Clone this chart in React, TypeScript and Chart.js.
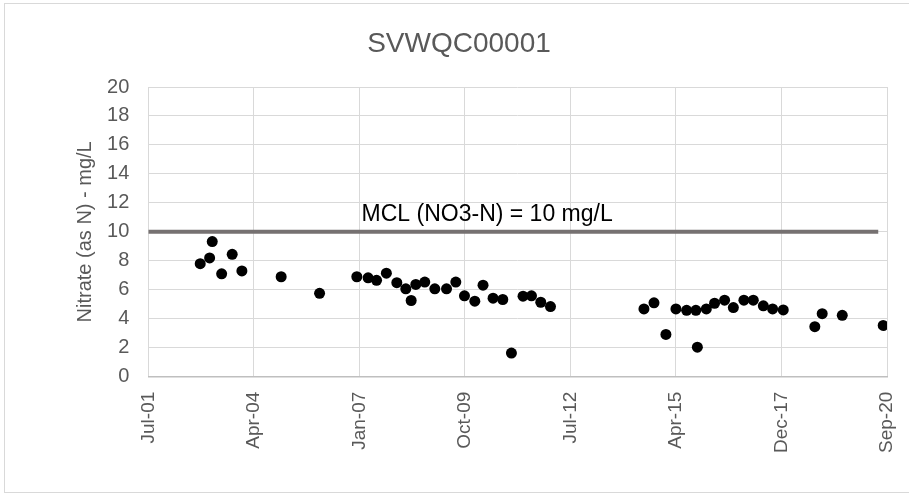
import React, { useEffect, useRef } from "react";
import { Chart, registerables } from "chart.js";

Chart.register(...registerables);

const chartTitle = "SVWQC00001";
const yAxisTitle = "Nitrate (as N) - mg/L";
const axisStartDate = "2001-07-28";
const axisSpanDays = 7000;
const tickStepDays = 1000;
const yMin = 0;
const yMax = 20;
const yStep = 2;

const sampleDates = [
  "2002-12-02", "2003-03-01", "2003-03-26", "2003-06-23", "2003-10-01",
  "2004-01-01", "2005-01-07", "2006-01-06", "2006-12-25", "2007-04-11",
  "2007-06-30", "2007-10-01", "2008-01-08", "2008-04-02", "2008-05-23",
  "2008-07-06", "2008-09-29", "2009-01-02", "2009-04-23", "2009-07-20",
  "2009-10-10", "2010-01-16", "2010-04-04", "2010-07-08", "2010-10-08",
  "2010-12-29", "2011-04-18", "2011-07-07", "2011-10-03", "2012-01-03",
  "2014-06-07", "2014-09-10", "2015-01-01", "2015-04-06", "2015-07-16",
  "2015-10-12", "2015-10-26", "2016-01-19", "2016-04-06", "2016-07-10",
  "2016-10-01", "2017-01-09", "2017-04-08", "2017-07-12", "2017-10-08",
  "2018-01-17", "2018-11-12", "2019-01-21", "2019-07-30", "2020-08-21",
];

const nitrateValues = [
  7.8, 8.2, 9.33, 7.1, 8.45,
  7.3, 6.9, 5.76, 6.9, 6.83,
  6.65, 7.15, 6.49, 6.07, 5.26,
  6.37, 6.53, 6.07, 6.07, 6.53,
  5.58, 5.21, 6.32, 5.42, 5.33,
  1.63, 5.56, 5.58, 5.14, 4.84,
  4.68, 5.1, 2.92, 4.68, 4.58,
  4.58, 2.04, 4.68, 5.07, 5.28,
  4.77, 5.28, 5.28, 4.89, 4.68,
  4.61, 3.45, 4.35, 4.24, 3.54,
];

const mclDates = ["2001-07-28", "2020-07-05"];
const mclValues = [10, 10];
const mclLabel = "MCL (NO3-N) = 10 mg/L";
const mclLabelDate = "2010-05-13";
const mclLabelValue = 11.2;

const MONTHS = ["Jan", "Feb", "Mar", "Apr", "May", "Jun", "Jul", "Aug", "Sep", "Oct", "Nov", "Dec"];
const FONT = '"Liberation Sans", Arial, sans-serif';
const DAY_MS = 86400000;

function dateMs(s: string): number {
  const [y, m, d] = s.split("-").map(Number);
  return Date.UTC(y, m - 1, d);
}
const baseMs = dateMs(axisStartDate);
function toDays(s: string): number {
  return Math.round((dateMs(s) - baseMs) / DAY_MS);
}
function formatTick(v: number): string {
  const d = new Date(baseMs + v * DAY_MS);
  const yy = String(d.getUTCFullYear() % 100).padStart(2, "0");
  return `${MONTHS[d.getUTCMonth()]}-${yy}`;
}

const mclLabelPlugin = {
  id: "mclLabel",
  afterDatasetsDraw(chart: any) {
    const { ctx, scales } = chart;
    const x = scales.x;
    const y = scales.y;
    ctx.save();
    ctx.font = `23px ${FONT}`;
    ctx.fillStyle = "#000000";
    ctx.textAlign = "center";
    ctx.textBaseline = "middle";
    ctx.fillText(mclLabel, x.getPixelForValue(toDays(mclLabelDate)), y.getPixelForValue(mclLabelValue));
    ctx.restore();
  },
};

export default function App() {
  const canvasRef = useRef<HTMLCanvasElement | null>(null);

  useEffect(() => {
    if (!canvasRef.current) return;
    const points = sampleDates.map((d, i) => ({ x: toDays(d), y: nitrateValues[i] }));
    const mcl = mclDates.map((d, i) => ({ x: toDays(d), y: mclValues[i] }));

    const chart = new Chart(canvasRef.current, {
      type: "scatter",
      data: {
        datasets: [
          {
            label: "Nitrate",
            data: points,
            backgroundColor: "#000000",
            borderColor: "#000000",
            borderWidth: 0,
            pointRadius: 5.5,
          },
          {
            label: "MCL",
            data: mcl,
            showLine: true,
            borderColor: "#767171",
            backgroundColor: "#767171",
            borderWidth: 4,
            pointRadius: 0,
          } as any,
        ],
      },
      options: {
        responsive: false,
        animation: false,
        layout: { padding: 0 },
        plugins: {
          legend: { display: false },
          tooltip: { enabled: false },
          title: {
            display: true,
            text: chartTitle,
            color: "#595959",
            font: { family: FONT, size: 28, weight: "normal" as any },
            padding: { top: 24.7, bottom: 25.7 },
          },
        },
        scales: {
          x: {
            type: "linear",
            min: 0,
            max: axisSpanDays,
            ticks: {
              stepSize: tickStepDays,
              minRotation: 90,
              maxRotation: 90,
              autoSkip: false,
              padding: 15,
              color: "#595959",
              font: { family: FONT, size: 19 },
              callback: (v: any) => formatTick(Number(v)),
            },
            grid: { color: "#d9d9d9", lineWidth: 1, drawTicks: false },
            border: { color: "#bfbfbf", width: 1.5 },
            afterFit: (s: any) => {
              s.height = 116.3;
              s.paddingLeft = 0;
              s.paddingRight = 0;
            },
          },
          y: {
            min: yMin,
            max: yMax,
            ticks: {
              stepSize: yStep,
              padding: 19,
              color: "#595959",
              font: { family: FONT, size: 20 },
            },
            grid: { color: "#d9d9d9", lineWidth: 1, drawTicks: false },
            border: { display: false },
            title: {
              display: true,
              text: yAxisTitle,
              color: "#595959",
              font: { family: FONT, size: 20 },
              padding: { top: 69, bottom: 0 },
            },
            afterFit: (s: any) => {
              s.width = 144.3;
              s.paddingTop = 0;
              s.paddingBottom = 0;
            },
          },
          ySpacer: {
            type: "linear",
            position: "right",
            display: true,
            min: yMin,
            max: yMax,
            grid: { display: false, drawTicks: false },
            border: { display: false },
            ticks: { display: false },
            afterFit: (s: any) => {
              s.width = 27;
              s.paddingTop = 0;
              s.paddingBottom = 0;
            },
          },
        },
      },
      plugins: [mclLabelPlugin],
    });

    return () => chart.destroy();
  }, []);

  return (
    <div style={{ position: "absolute", left: 0, top: 0, width: 909, height: 494, overflow: "hidden", background: "#ffffff" }}>
      <div
        style={{
          position: "absolute",
          left: 4,
          top: 3,
          width: 920,
          height: 490,
          border: "1px solid #d9d9d9",
          boxSizing: "border-box",
        }}
      />
      <canvas
        ref={canvasRef}
        width={910}
        height={490}
        style={{ position: "absolute", left: 4, top: 3, width: 910, height: 490 }}
      />
    </div>
  );
}
